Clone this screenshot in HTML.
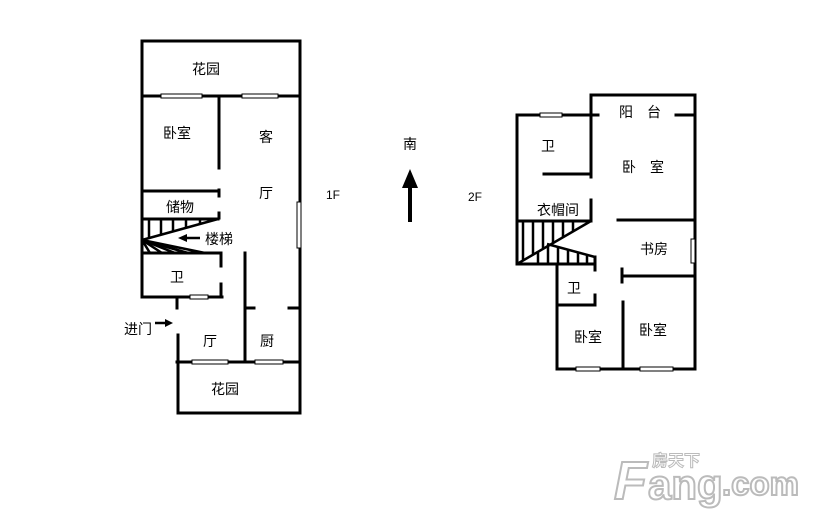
<!DOCTYPE html>
<html><head><meta charset="utf-8"><style>
html,body{margin:0;padding:0;background:#fff;}
svg{display:block;}
text{font-family:"Liberation Sans","Noto Sans CJK SC",sans-serif;font-size:14px;fill:#000;}
</style></head><body>
<svg width="814" height="519" viewBox="0 0 814 519" xmlns="http://www.w3.org/2000/svg">
<g stroke="#000" stroke-width="3" fill="none" stroke-linecap="square">
<!-- 1F -->
<polyline points="142,297 142,41 300,41 300,413 178,413 178,335"/>
<line x1="142" y1="96" x2="300" y2="96"/>
<line x1="219" y1="96" x2="219" y2="168"/>
<line x1="142" y1="191" x2="219" y2="191"/>
<line x1="219" y1="190" x2="219" y2="196"/>
<line x1="219" y1="213" x2="219" y2="218"/>
<line x1="142" y1="219" x2="218" y2="219"/>
<line x1="142" y1="253" x2="221" y2="253"/>
<line x1="221" y1="253" x2="221" y2="266"/>
<line x1="221" y1="284" x2="221" y2="297"/>
<line x1="142" y1="297" x2="222" y2="297"/>
<line x1="177" y1="297" x2="177" y2="308"/>
<line x1="245" y1="253" x2="245" y2="362"/>
<line x1="245" y1="308" x2="254" y2="308"/>
<line x1="289" y1="308" x2="300" y2="308"/>
<line x1="177" y1="362" x2="300" y2="362"/>
<!-- 2F -->
<polyline points="591,177 591,95 695,95 695,369 557,369 557,264"/>
<polyline points="598,115 517,115 517,264 595,264"/>
<line x1="676" y1="115" x2="695" y2="115"/>
<line x1="544" y1="174" x2="591" y2="174"/>
<line x1="591" y1="200" x2="591" y2="221"/>
<line x1="517" y1="221" x2="591" y2="221"/>
<line x1="618" y1="220" x2="695" y2="220"/>
<line x1="625" y1="276" x2="695" y2="276"/>
<line x1="622" y1="269" x2="622" y2="282"/>
<line x1="557" y1="305" x2="595" y2="305"/>
<line x1="595" y1="257" x2="595" y2="270"/>
<line x1="595" y1="295" x2="595" y2="305"/>
<line x1="623" y1="302" x2="623" y2="369"/>
</g>
<!-- stairs 1F -->
<g stroke="#000" stroke-width="2.5" fill="none">
<line x1="142" y1="240" x2="218" y2="219"/>
<line x1="142" y1="240" x2="205" y2="253"/>
<line x1="149" y1="219" x2="149" y2="238"/>
<line x1="161" y1="219" x2="161" y2="235"/>
<line x1="173" y1="219" x2="173" y2="232"/>
<line x1="186" y1="219" x2="186" y2="228"/>
<line x1="200" y1="219" x2="200" y2="224"/>
<line x1="142" y1="240" x2="150" y2="253"/>
<line x1="142" y1="240" x2="162" y2="253"/>
<line x1="142" y1="240" x2="175" y2="253"/>
<line x1="142" y1="240" x2="188" y2="253"/>
<!-- stairs 2F -->
<line x1="591" y1="221" x2="517" y2="264"/>
<line x1="547" y1="244" x2="595" y2="257"/>
<line x1="523" y1="221" x2="523" y2="260"/>
<line x1="533" y1="221" x2="533" y2="254"/>
<line x1="543" y1="221" x2="543" y2="248"/>
<line x1="553" y1="221" x2="553" y2="243"/>
<line x1="563" y1="221" x2="563" y2="237"/>
<line x1="573" y1="221" x2="573" y2="231"/>
<line x1="538" y1="251" x2="538" y2="264"/>
<line x1="548" y1="245" x2="548" y2="264"/>
<line x1="558" y1="247" x2="558" y2="264"/>
<line x1="568" y1="250" x2="568" y2="264"/>
<line x1="578" y1="252" x2="578" y2="264"/>
<line x1="587" y1="255" x2="587" y2="264"/>
</g>
<!-- windows -->
<g fill="#fff" stroke="#000" stroke-width="1">
<rect x="161" y="94" width="41" height="4"/>
<rect x="242" y="94" width="36" height="4"/>
<rect x="297" y="202" width="4" height="46"/>
<rect x="190" y="295" width="18" height="4"/>
<rect x="192" y="360" width="36" height="4"/>
<rect x="255" y="360" width="28" height="4"/>
<rect x="540" y="113" width="22" height="4"/>
<rect x="691" y="239" width="4" height="24"/>
<rect x="576" y="367" width="24" height="4"/>
<rect x="640" y="367" width="33" height="4"/>
</g>
<!-- arrows -->
<g stroke="#000" stroke-width="2.5">
<line x1="200" y1="238" x2="184" y2="238"/>
<line x1="155" y1="323" x2="168" y2="323"/>
</g>
<polygon points="178,238 187,234 187,242" fill="#000"/>
<polygon points="173,323 165,319 165,327" fill="#000"/>
<rect x="408" y="186" width="4" height="36" fill="#000"/>
<polygon points="410,169 402,188 418,188" fill="#000"/>
<!-- labels -->
<text x="192" y="74">花园</text>
<text x="163" y="138">卧室</text>
<text x="259" y="142">客</text>
<text x="259" y="198">厅</text>
<text x="166" y="212">储物</text>
<text x="205" y="244">楼梯</text>
<text x="170" y="282">卫</text>
<text x="124" y="334">进门</text>
<text x="203" y="346">厅</text>
<text x="260" y="346">厨</text>
<text x="211" y="394">花园</text>
<text x="326" y="199" style="font-size:12px">1F</text>
<text x="403" y="149">南</text>
<text x="468" y="201" style="font-size:12px">2F</text>
<text x="619" y="117">阳</text><text x="647" y="117">台</text>
<text x="622" y="172">卧</text><text x="650" y="172">室</text>
<text x="541" y="151">卫</text>
<text x="537" y="215">衣帽间</text>
<text x="640" y="254">书房</text>
<text x="567" y="293">卫</text>
<text x="574" y="342">卧室</text>
<text x="639" y="335">卧室</text>
<!-- watermark -->
<text x="614" y="499" style="font-size:54px;font-weight:bold;font-style:italic;fill:#fff;stroke:#bbb;stroke-width:2">F</text>
<text x="648" y="499" style="font-size:42px;font-weight:bold;fill:#fff;stroke:#bbb;stroke-width:2">ang</text>
<text x="722" y="495" style="font-size:33px;font-weight:bold;fill:#fff;stroke:#bbb;stroke-width:2">.com</text>
<text x="652" y="466" style="font-size:16px;font-weight:bold;fill:#fff;stroke:#bbb;stroke-width:1">房天下</text>
</svg>
</body></html>
